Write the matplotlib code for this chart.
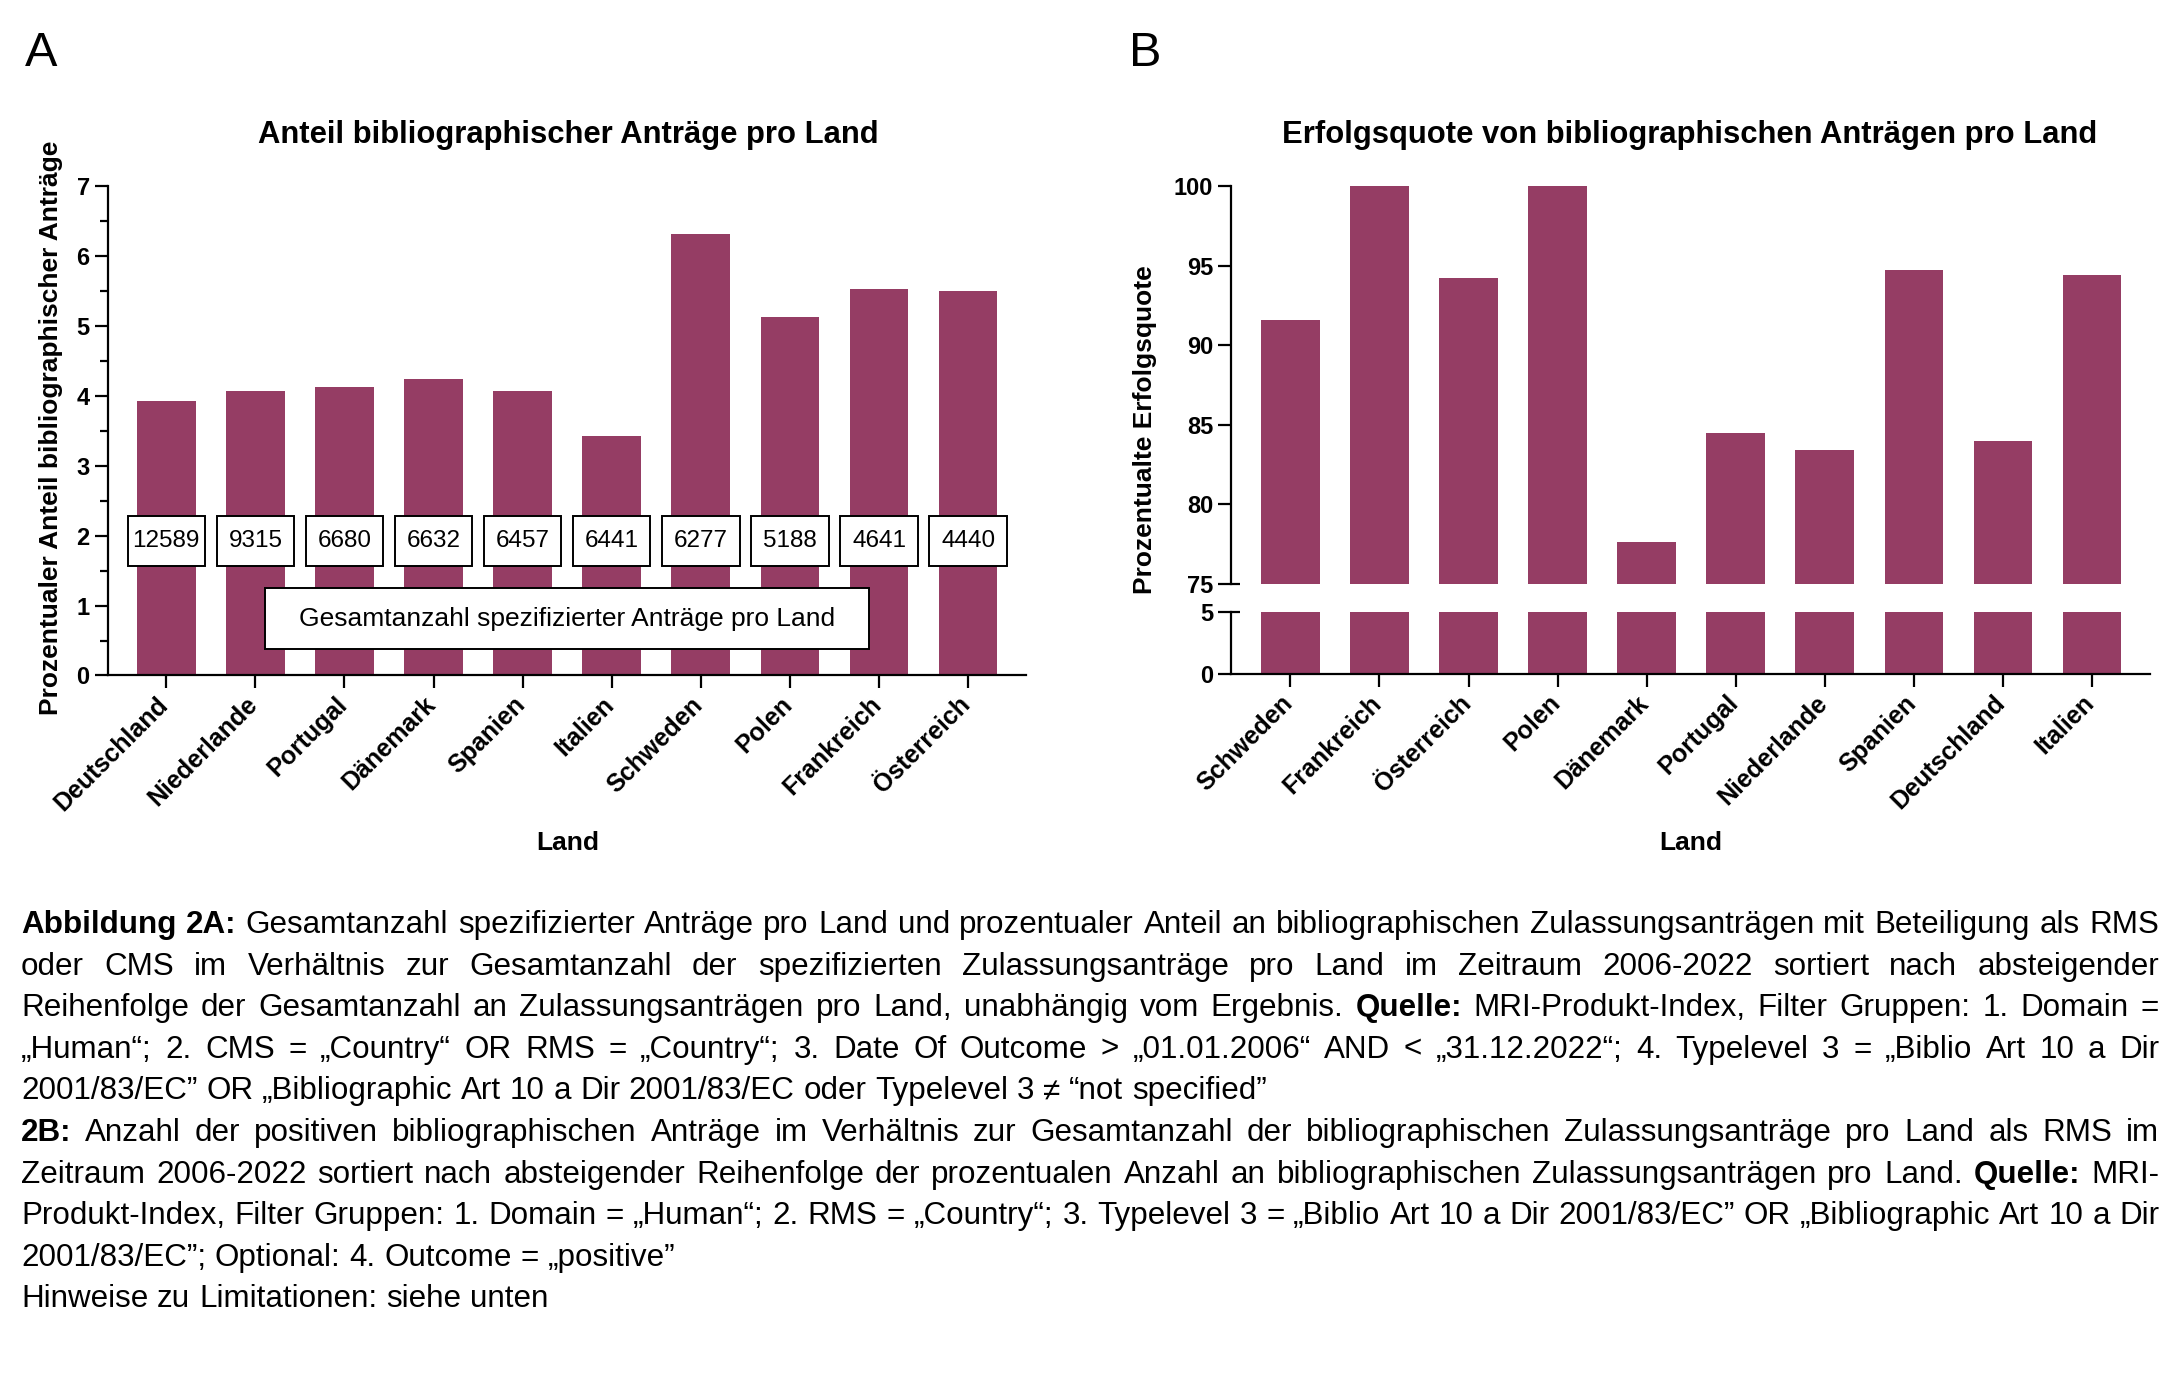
import matplotlib
matplotlib.use('Agg')
import matplotlib.pyplot as plt
from matplotlib.patches import Rectangle
import matplotlib.transforms as mtransforms
from matplotlib.ticker import MultipleLocator

plt.rcParams['font.family'] = ['Liberation Sans', 'DejaVu Sans']

# ---------------- data ----------------
countries_a = ['Deutschland', 'Niederlande', 'Portugal', 'Dänemark', 'Spanien',
               'Italien', 'Schweden', 'Polen', 'Frankreich', 'Österreich']
share_a = [3.92, 4.07, 4.13, 4.24, 4.07, 3.43, 6.31, 5.13, 5.52, 5.50]
counts_a = [12589, 9315, 6680, 6632, 6457, 6441, 6277, 5188, 4641, 4440]

countries_b = ['Schweden', 'Frankreich', 'Österreich', 'Polen', 'Dänemark',
               'Portugal', 'Niederlande', 'Spanien', 'Deutschland', 'Italien']
rate_b = [91.6, 100.0, 94.2, 100.0, 77.6, 84.5, 83.4, 94.7, 84.0, 94.4]

yticks_a = [0, 1, 2, 3, 4, 5, 6, 7]
yticks_b_top = [75, 80, 85, 90, 95, 100]
yticks_b_bot = [0, 5]

title_a = 'Anteil bibliographischer Anträge pro Land'
title_b = 'Erfolgsquote von bibliographischen Anträgen pro Land'
ylabel_a = 'Prozentualer Anteil bibliographischer Anträge'
ylabel_b = 'Prozentualte Erfolgsquote'
xlabel = 'Land'
legend_text = 'Gesamtanzahl spezifizierter Anträge pro Land'

caption_lines = [
    '**Abbildung 2A:** Gesamtanzahl spezifizierter Anträge pro Land und prozentualer Anteil an bibliographischen Zulassungsanträgen mit Beteiligung als RMS',
    'oder CMS im Verhältnis zur Gesamtanzahl der spezifizierten Zulassungsanträge pro Land im Zeitraum 2006-2022 sortiert nach absteigender',
    'Reihenfolge der Gesamtanzahl an Zulassungsanträgen pro Land, unabhängig vom Ergebnis. **Quelle:** MRI-Produkt-Index, Filter Gruppen: 1. Domain =',
    '„Human“; 2. CMS = „Country“ OR RMS = „Country“; 3. Date Of Outcome > „01.01.2006“ AND < „31.12.2022“; 4. Typelevel 3 = „Biblio Art 10 a Dir',
    '2001/83/EC” OR „Bibliographic Art 10 a Dir 2001/83/EC oder Typelevel 3 ≠ “not specified”',
    '**2B:** Anzahl der positiven bibliographischen Anträge im Verhältnis zur Gesamtanzahl der bibliographischen Zulassungsanträge pro Land als RMS im',
    'Zeitraum 2006-2022 sortiert nach absteigender Reihenfolge der prozentualen Anzahl an bibliographischen Zulassungsanträgen pro Land. **Quelle:** MRI-',
    'Produkt-Index, Filter Gruppen: 1. Domain = „Human“; 2. RMS = „Country“; 3. Typelevel 3 = „Biblio Art 10 a Dir 2001/83/EC” OR „Bibliographic Art 10 a Dir',
    '2001/83/EC”; Optional: 4. Outcome = „positive”',
    'Hinweise zu Limitationen: siehe unten',
]
caption_justify = [True, True, True, True, False, True, True, True, False, False]

# ---------------- style ----------------
W, H, DPI = 2180, 1380, 100
BAR = '#953D64'
TICK_FS = 17
XTICK_FS = 18
LABEL_FS = 19
TITLE_FS = 22.3
CAP_FS = 22.6
SPINE_W = 1.6

fig = plt.figure(figsize=(W / DPI, H / DPI), dpi=DPI)


def rect(x0, y0, x1, y1):
    return [x0 / W, 1 - y1 / H, (x1 - x0) / W, (y1 - y0) / H]


def style(ax, left=True, bottom=True):
    for s in ['top', 'right']:
        ax.spines[s].set_visible(False)
    ax.spines['left'].set_visible(left)
    ax.spines['bottom'].set_visible(bottom)
    ax.spines['left'].set_linewidth(SPINE_W)
    ax.spines['bottom'].set_linewidth(SPINE_W)
    ax.tick_params(axis='both', which='major', length=9.3, width=SPINE_W,
                   labelsize=TICK_FS, direction='out')
    ax.tick_params(axis='both', which='minor', length=5.5, width=SPINE_W, direction='out')


def bold_y(ax):
    for lab in ax.get_yticklabels():
        lab.set_fontweight('bold')


def xlabels(ax, names):
    ax.set_xticks(range(len(names)))
    ax.set_xticklabels(names, rotation=45, ha='right', va='top',
                       fontsize=XTICK_FS, fontweight='bold')
    ax.tick_params(axis='x', pad=3)
    off = mtransforms.ScaledTranslation(7 / DPI, 0, fig.dpi_scale_trans)
    for lab in ax.get_xticklabels():
        lab.set_transform(lab.get_transform() + off)


# ---------------- Panel A ----------------
axA = fig.add_axes(rect(107.5, 186, 1026, 675.5))
xa = list(range(len(countries_a)))
axA.bar(xa, share_a, width=0.66, color=BAR, zorder=1)
axA.set_xlim(-0.66, len(xa) - 1 + 0.65)
axA.set_ylim(0, 7)
axA.set_yticks(yticks_a)
axA.yaxis.set_minor_locator(MultipleLocator(0.5))
style(axA)
bold_y(axA)
xlabels(axA, countries_a)

for i, c in zip(xa, counts_a):
    axA.add_patch(Rectangle((i - 0.435, 1.565), 0.87, 0.72, facecolor='white',
                            edgecolor='black', linewidth=1.4, zorder=3))
    axA.text(i, 1.925, str(c), ha='center', va='center', fontsize=17.5, zorder=4)

mid = (len(xa) - 1) / 2
axA.add_patch(Rectangle((mid - 3.39, 0.375), 6.78, 0.875, facecolor='white',
                        edgecolor='black', linewidth=1.4, zorder=3))
axA.text(mid, 0.81, legend_text, ha='center', va='center', fontsize=19, zorder=4)

# ---------------- Panel B ----------------
axBt = fig.add_axes(rect(1231, 186.2, 2150, 583.8))
axBb = fig.add_axes(rect(1231, 612.4, 2150, 673.8))
xb = list(range(len(countries_b)))
for ax in (axBt, axBb):
    ax.bar(xb, rate_b, width=0.66, color=BAR)
    ax.set_xlim(-0.667, len(xb) - 1 + 0.65)

axBt.set_ylim(75, 100)
axBt.set_yticks(yticks_b_top)
style(axBt, bottom=False)
axBt.set_xticks([])
bold_y(axBt)

axBb.set_ylim(0, 5)
axBb.set_yticks(yticks_b_bot)
style(axBb)
bold_y(axBb)
xlabels(axBb, countries_b)

# break caps (ticks reaching into the plot at 75 and 5)
for ax, yv in ((axBt, 75), (axBb, 5)):
    tr = mtransforms.blended_transform_factory(ax.transAxes, ax.transData)
    ax.plot([0, 0.0098], [yv, yv], transform=tr, color='black',
            linewidth=SPINE_W, clip_on=False, solid_capstyle='butt')

# ---------------- texts ----------------
fig.text(25 / W, 1 - 66.5 / H, 'A', fontsize=35, va='baseline', ha='left')
fig.text(1129 / W, 1 - 66.5 / H, 'B', fontsize=35, va='baseline', ha='left')

fig.text(568 / W, 1 - 143 / H, title_a, fontsize=TITLE_FS, fontweight='bold',
         ha='center', va='baseline')
fig.text(1690 / W, 1 - 143 / H, title_b, fontsize=TITLE_FS, fontweight='bold',
         ha='center', va='baseline')

fig.text(51 / W, 1 - 428 / H, ylabel_a, fontsize=LABEL_FS, fontweight='bold',
         rotation=90, ha='center', va='center')
fig.text(1145 / W, 1 - 430 / H, ylabel_b, fontsize=LABEL_FS, fontweight='bold',
         rotation=90, ha='center', va='center')

fig.text(568 / W, 1 - 850 / H, xlabel, fontsize=LABEL_FS, fontweight='bold',
         ha='center', va='baseline')
fig.text(1691 / W, 1 - 850 / H, xlabel, fontsize=LABEL_FS, fontweight='bold',
         ha='center', va='baseline')

# ---------------- justified caption ----------------
renderer = fig.canvas.get_renderer()


def tokens(line):
    out = []
    parts = line.split('**')
    for k, part in enumerate(parts):
        bold = (k % 2 == 1)
        for w in part.split(' '):
            if w:
                out.append((w, bold))
    return out


def width_of(s, bold=False):
    t = fig.text(0, 0, s, fontsize=CAP_FS, fontweight='bold' if bold else 'normal')
    w = t.get_window_extent(renderer).width
    t.remove()
    return w


space_w = width_of('x x') - width_of('xx')
X0, X1 = 21, 2159
for k, (line, just) in enumerate(zip(caption_lines, caption_justify)):
    yb = 933 + k * 41.6
    toks = tokens(line)
    arts = []
    ws = []
    for w, b in toks:
        t = fig.text(0, 1 - yb / H, w, fontsize=CAP_FS,
                     fontweight='bold' if b else 'normal', ha='left', va='baseline')
        arts.append(t)
        ws.append(t.get_window_extent(renderer).width)
    if just and len(toks) > 1:
        gap = (X1 - X0 - sum(ws)) / (len(toks) - 1)
    else:
        gap = space_w
    x = X0
    for t, w in zip(arts, ws):
        t.set_x(x / W)
        x += w + gap

fig.savefig('out.png', dpi=DPI)
